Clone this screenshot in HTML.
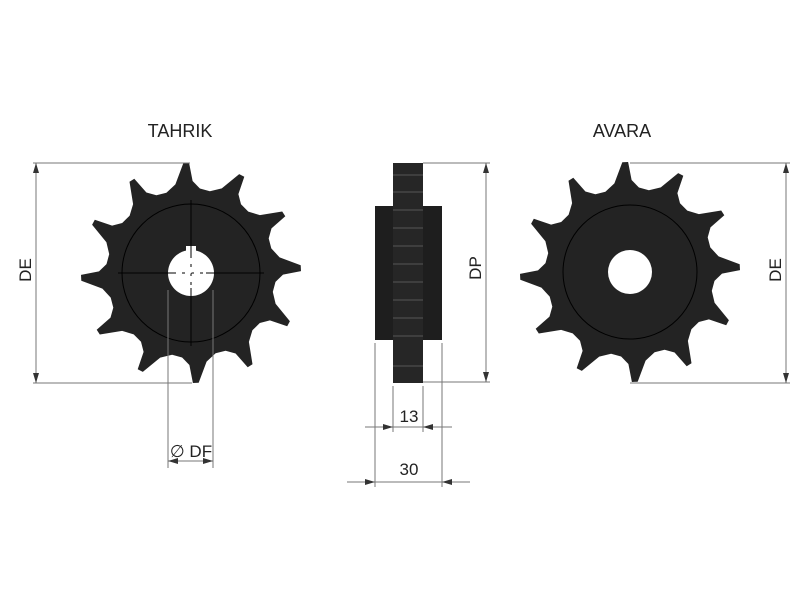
<!DOCTYPE html>
<html><head><style>body{margin:0;background:#fff}svg{display:block}text{font-family:"Liberation Sans",sans-serif;fill:#222}</style></head>
<body>
<svg id="s" width="800" height="600" viewBox="0 0 800 600" xmlns="http://www.w3.org/2000/svg">
<defs>
<marker id="a" viewBox="0 0 10 6" refX="10" refY="3" markerWidth="10" markerHeight="6" orient="auto-start-reverse" markerUnits="userSpaceOnUse"><path d="M0,0L10,3L0,6z" fill="#333"/></marker>
</defs>
<rect width="800" height="600" fill="#fff"/>
<text x="180" y="137" font-size="18" text-anchor="middle">TAHRIK</text>
<text x="622" y="137" font-size="18" text-anchor="middle">AVARA</text>
<g id="g1"></g>
<g id="g2"></g>
<circle cx="191" cy="273" r="69" fill="none" stroke="#000" stroke-width="1"/>
<path d="M168,273a23,23 0 1,0 46,0a23,23 0 1,0 -46,0z" fill="#fff"/>
<rect x="186" y="246" width="10" height="8" fill="#fff"/>
<line x1="118" y1="273" x2="264" y2="273" stroke="#000" stroke-width="1"/>
<line x1="191" y1="200" x2="191" y2="346" stroke="#000" stroke-width="1"/>
<line x1="176" y1="273" x2="206" y2="273" stroke="#fff" stroke-width="1" stroke-dasharray="6,3"/>
<line x1="191" y1="258" x2="191" y2="288" stroke="#fff" stroke-width="1" stroke-dasharray="6,3"/>
<circle cx="630" cy="272" r="67" fill="none" stroke="#000" stroke-width="1"/>
<circle cx="630" cy="272" r="22" fill="#fff"/>
<rect x="375" y="206" width="67" height="134" fill="#1e1e1e"/>
<rect x="393" y="163" width="30" height="220" fill="#262626"/>
<g stroke="#555" stroke-width="1">
<line x1="393" y1="175" x2="423" y2="175"/><line x1="393" y1="192" x2="423" y2="192"/><line x1="393" y1="210" x2="423" y2="210"/><line x1="393" y1="228" x2="423" y2="228"/><line x1="393" y1="246" x2="423" y2="246"/><line x1="393" y1="264" x2="423" y2="264"/><line x1="393" y1="282" x2="423" y2="282"/><line x1="393" y1="300" x2="423" y2="300"/><line x1="393" y1="318" x2="423" y2="318"/><line x1="393" y1="336" x2="423" y2="336"/><line x1="393" y1="366" x2="423" y2="366"/>
</g>
<g stroke="#777" stroke-width="1" fill="none">
<line x1="33" y1="163" x2="190" y2="163"/><line x1="33" y1="383" x2="192" y2="383"/>
<line x1="36" y1="163" x2="36" y2="383" marker-start="url(#a)" marker-end="url(#a)"/>
<line x1="630" y1="163" x2="790" y2="163"/><line x1="630" y1="383" x2="790" y2="383"/>
<line x1="786" y1="163" x2="786" y2="383" marker-start="url(#a)" marker-end="url(#a)"/>
<line x1="168" y1="290" x2="168" y2="468"/><line x1="213" y1="290" x2="213" y2="468"/>
<line x1="168" y1="461" x2="213" y2="461" marker-start="url(#a)" marker-end="url(#a)"/>
<line x1="423" y1="163" x2="490" y2="163"/><line x1="423" y1="382" x2="490" y2="382"/>
<line x1="486" y1="163" x2="486" y2="382" marker-start="url(#a)" marker-end="url(#a)"/>
<line x1="393" y1="386" x2="393" y2="432"/><line x1="423" y1="386" x2="423" y2="432"/>
<line x1="393" y1="427" x2="365" y2="427" marker-start="url(#a)"/>
<line x1="423" y1="427" x2="452" y2="427" marker-start="url(#a)"/>
<line x1="393" y1="427" x2="423" y2="427"/>
<line x1="375" y1="343" x2="375" y2="487"/><line x1="442" y1="343" x2="442" y2="487"/>
<line x1="375" y1="482" x2="347" y2="482" marker-start="url(#a)"/>
<line x1="442" y1="482" x2="470" y2="482" marker-start="url(#a)"/>
<line x1="375" y1="482" x2="442" y2="482"/>
</g>
<text x="0" y="0" font-size="17" text-anchor="middle" transform="translate(31,270) rotate(-90)">DE</text>
<text x="0" y="0" font-size="17" text-anchor="middle" transform="translate(781,270) rotate(-90)">DE</text>
<text x="0" y="0" font-size="17" text-anchor="middle" transform="translate(481,268) rotate(-90)">DP</text>
<text x="191" y="457" font-size="17" text-anchor="middle">∅ DF</text>
<text x="409" y="422" font-size="17" text-anchor="middle">13</text>
<text x="409" y="475" font-size="17" text-anchor="middle">30</text>
</svg>
<script>
function gear(cx,cy,off){
  var pts=[];var n=12;
  for(var k=0;k<n;k++){
    var a=off+k*360/n;
    var seq=[[-15,84],[-8,90],[-2,110],[1,110],[3,92],[8,85]];
    seq.forEach(function(p){var t=(a+p[0])*Math.PI/180;pts.push((cx+p[1]*Math.sin(t)).toFixed(1)+','+(cy-p[1]*Math.cos(t)).toFixed(1));});
  }
  return '<polygon points="'+pts.join(' ')+'" fill="#232323"/>';
}
document.getElementById('g1').innerHTML=gear(191,273,-2);
document.getElementById('g2').innerHTML=gear(630,272,-2);
</script>
</body></html>
